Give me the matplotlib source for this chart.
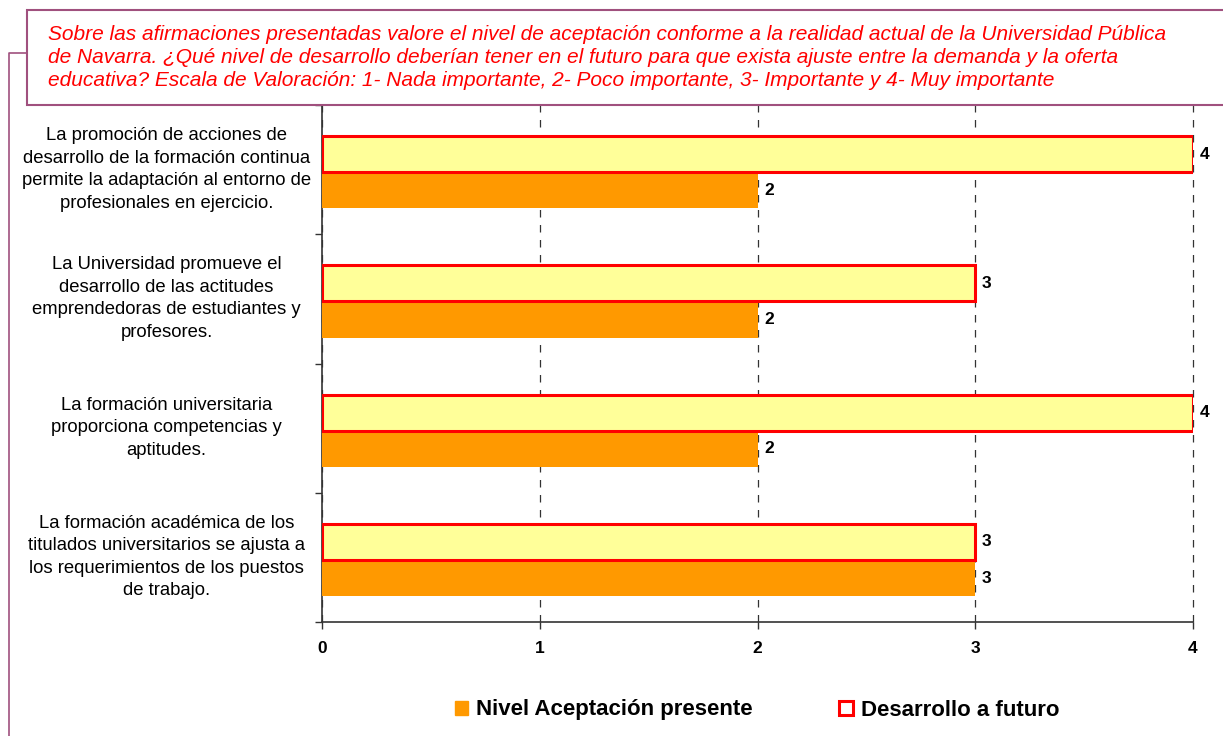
import matplotlib.pyplot as plt
from matplotlib.lines import Line2D
from matplotlib.patches import Rectangle, Patch
from matplotlib.transforms import ScaledTranslation

plt.rcParams['font.family'] = ['Liberation Sans', 'DejaVu Sans']

# categories from bottom to top
categories = [
    "La formación académica de los\ntitulados universitarios se ajusta a\nlos requerimientos de los puestos\nde trabajo.",
    "La formación universitaria\nproporciona competencias y\naptitudes.",
    "La Universidad promueve el\ndesarrollo de las actitudes\nemprendedoras de estudiantes y\nprofesores.",
    "La promoción de acciones de\ndesarrollo de la formación continua\npermite la adaptación al entorno de\nprofesionales en ejercicio.",
]
presente = [3, 2, 2, 2]
futuro = [3, 4, 3, 4]
xticks = [0, 1, 2, 3, 4]

title = ("Sobre las afirmaciones presentadas valore el nivel de aceptación conforme a la realidad actual de la Universidad Pública\n"
         "de Navarra. ¿Qué nivel de desarrollo deberían tener en el futuro para que exista ajuste entre la demanda y la oferta\n"
         "educativa? Escala de Valoración: 1- Nada importante, 2- Poco importante, 3- Importante y 4- Muy importante")

W, H = 1223, 736
fig = plt.figure(figsize=(W / 100, H / 100), dpi=100)
ax = fig.add_axes([322 / W, 1 - 622 / H, (1193 - 322) / W, (622 - 105) / H])

frame_col = '#A0507E'
# outer frame left edge
fig.add_artist(Line2D([9 / W, 9 / W, 27 / W], [0, 1 - 53 / H, 1 - 53 / H],
                      transform=fig.transFigure, color=frame_col, lw=1.2))
# title box
fig.add_artist(Rectangle((27 / W, 1 - 105 / H), 1.2, 95 / H, transform=fig.transFigure,
                         facecolor='white', edgecolor=frame_col, lw=1.5))
fig.text(48 / W, 1 - 57.5 / H, title, color='#FF0000', style='italic', fontsize=15,
         va='center', ha='left', linespacing=1.25)

y = list(range(len(categories)))
h = 0.28
y_fut = [v + h / 2 - 0.02 for v in y]
y_pre = [v - h / 2 - 0.02 for v in y]
ax.barh(y_pre, presente, height=h, color='#FF9900', zorder=3)
ax.barh(y_fut, futuro, height=h, color='#FFFF99', edgecolor='#FF0000', lw=2.2, zorder=3)

for yy, v in zip(y_pre, presente):
    ax.text(v + 0.03, yy, str(v), va='center', ha='left', fontsize=12.5, fontweight='bold')
for yy, v in zip(y_fut, futuro):
    ax.text(v + 0.03, yy, str(v), va='center', ha='left', fontsize=12.5, fontweight='bold')

ax.set_xlim(0, 4)
ax.set_ylim(-0.5, len(categories) - 0.5)
ax.set_xticks(xticks)
ax.set_xticklabels([str(t) for t in xticks], fontweight='bold', fontsize=12.5)
ax.tick_params(axis='x', length=5, width=1, color='#333333', pad=9)
ax.xaxis.grid(True, linestyle=(0, (6, 6)), color='#333333', lw=0.9)
for gl in ax.get_xgridlines():
    gl.set_clip_on(False)
ax.set_axisbelow(True)

ax.set_yticks(y)
ax.set_yticklabels(categories, ha='center', fontsize=13.3, linespacing=1.42)
ax.tick_params(axis='y', which='major', length=0, pad=112)
# labels sit a bit above the category centre
for lab in ax.get_yticklabels():
    lab.set_transform(lab.get_transform() + ScaledTranslation(0, 5 / 100, fig.dpi_scale_trans))
ax.set_yticks([v - 0.5 for v in y] + [len(y) - 0.5], minor=True)
ax.tick_params(axis='y', which='minor', length=5, width=1, color='#333333')

for s in ['top', 'right']:
    ax.spines[s].set_visible(False)
for s in ['left', 'bottom']:
    ax.spines[s].set_color('#333333')
    ax.spines[s].set_linewidth(1.2)

handles = [Patch(facecolor='#FF9900', edgecolor='#FF9900', label='Nivel Aceptación presente'),
           Patch(facecolor='white', edgecolor='#FF0000', lw=2.2, label='Desarrollo a futuro')]
fig.legend(handles=handles, loc='center', bbox_to_anchor=(757 / W, 1 - 710 / H), ncol=2,
           frameon=False, prop={'weight': 'bold', 'size': 16}, handlelength=0.6,
           handleheight=0.6, handletextpad=0.35, columnspacing=3.9)

fig.savefig('out.png', dpi=100)
